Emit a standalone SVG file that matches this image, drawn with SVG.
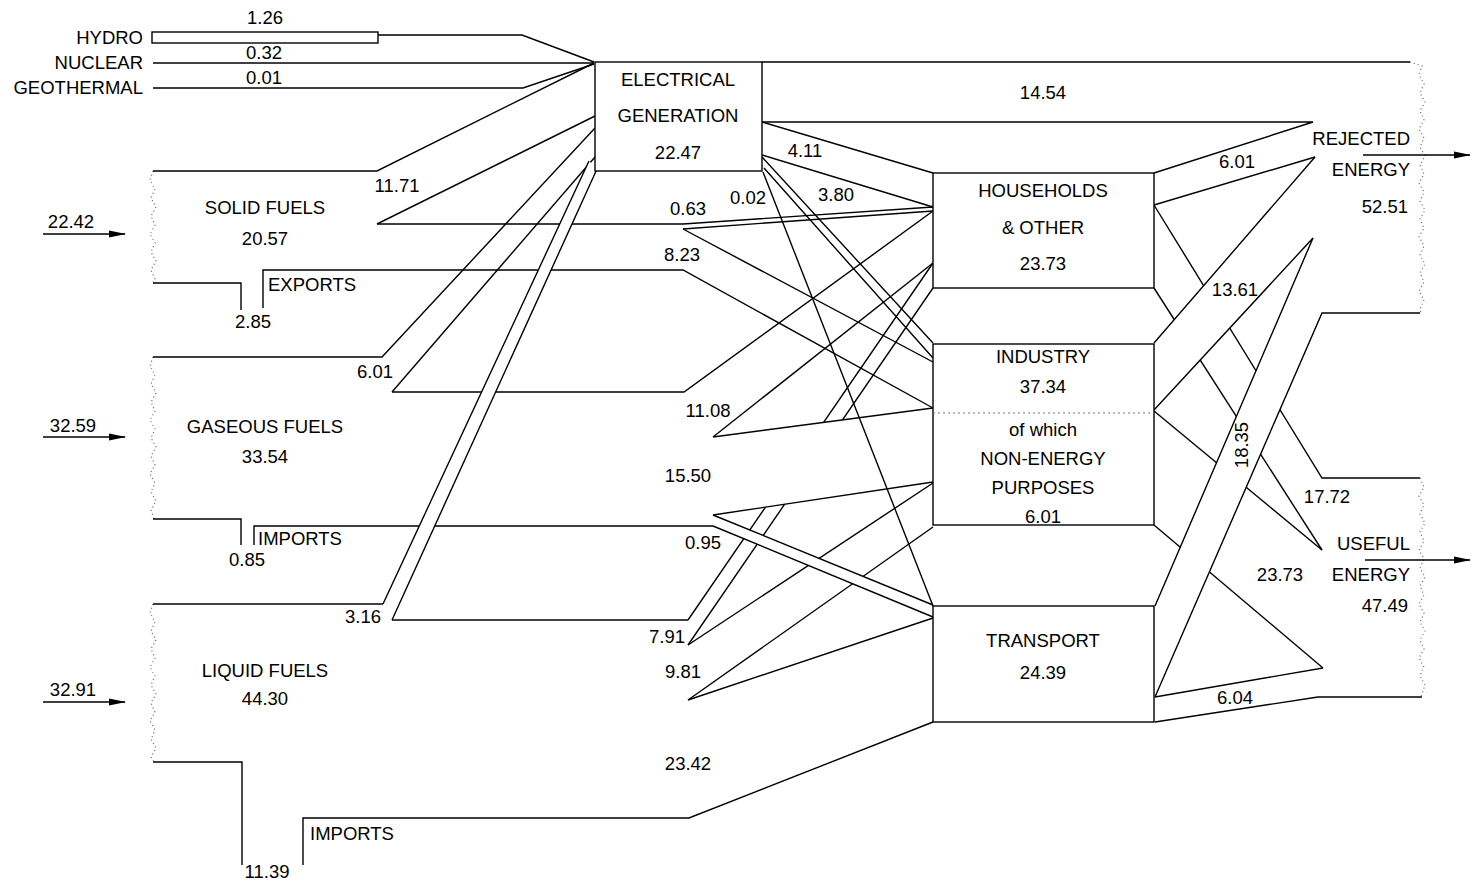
<svg xmlns="http://www.w3.org/2000/svg" width="1473" height="884" viewBox="0 0 1473 884">
<defs>
<marker id="ah" markerWidth="17" markerHeight="8" refX="16" refY="4" orient="auto" markerUnits="userSpaceOnUse">
<path d="M0,0.5 L17,4 L0,7.5 z" fill="#000"/>
</marker>
<style>
.l{fill:none;stroke:#000;stroke-width:1.4;stroke-linejoin:miter}
.b{fill:#fff;stroke:none}
.d{fill:none;stroke:#666;stroke-width:1.2;stroke-dasharray:1 3}
.dl{fill:none;stroke:#777;stroke-width:1;stroke-dasharray:2 3}
.box{fill:#fff;stroke:#000;stroke-width:1.4}
text{font-family:"Liberation Sans",Arial,Helvetica,sans-serif;font-size:18.5px;fill:#000}
.m{text-anchor:middle}
.e{text-anchor:end}
</style>
</defs>
<rect width="1473" height="884" fill="#fff"/>

<g id="connectors">
  <g id="hydro-nuclear-geo">
    <rect x="152" y="32" width="226" height="11" fill="none" stroke="#000" stroke-width="1.4"/>
    <path class="l" d="M378,35 H522 L594,62"/>
    <path class="l" d="M153,63 H594"/>
    <path class="l" d="M153,88 H523 L594,64"/>
  </g>
  <g id="solid-band">
    <path class="d" d="M153,171 L150,180 L155,189 L151,198 L156,207 L151,216 L155,225 L150,234 L155,243 L151,252 L156,261 L151,270 L155,279 L153,283"/>
    <path class="l" d="M153,171 H377 L594,63"/>
    <path class="l" d="M377,224 L595,116"/>
    <path class="l" d="M153,283 H241 V310"/>
    <path class="l" d="M377,224 H683 L933,207"/>
    <path class="l" d="M683,229 L933,211"/>
    <path class="l" d="M683,229 L933,362"/>
    <path class="l" d="M263,308 V270 H683 L933,408"/>
  </g>
  <g id="gas-band">
    <path class="d" d="M153,357 L150,366 L155,375 L151,384 L156,393 L151,402 L155,411 L150,420 L155,429 L151,438 L156,447 L151,456 L155,465 L150,474 L155,483 L151,492 L156,501 L151,510 L154,519"/>
    <path class="l" d="M153,357 H382 L595,128"/>
    <path class="l" d="M392,392 L595,157"/>
    <path class="l" d="M153,519 H241 V545"/>
    <path class="l" d="M392,392 H684 L933,211"/>
    <path class="l" d="M713,437 L933,263"/>
  </g>
  <g id="liquid-band">
    <path class="d" d="M153,604 L150,613 L155,622 L151,631 L156,640 L151,649 L155,658 L150,667 L155,676 L151,685 L156,694 L151,703 L155,712 L150,721 L155,730 L151,739 L156,748 L151,757 L154,762"/>
    <path class="l" d="M153,604 H383"/>
    <path class="l" d="M153,762 H242 V865"/>
    <path class="l" d="M303,865 V818 H689 L933,722"/>
    <path class="l" d="M392,620 H688"/>
    <path class="l" d="M688,645 L933,483"/>
    <path class="l" d="M688,700 L933,527"/>
    <path class="l" d="M688,700 L933,618"/>
  </g>
  <path class="l" d="M254,545 V526 H713"/>
  <g id="liq-316">
    <path class="b" d="M383,604 L589,161 L597,169 L392,620 z"/>
    <path class="l" d="M383,604 L589,161 M392,620 L597,169"/>
  </g>
  <path class="l" d="M762,62 H1410"/>
  <path class="l" d="M762,122 H1313 L1154,173"/>
  <path class="l" d="M762,122 L933,173"/>
  <path class="l" d="M762,155 L933,207"/>
  <g id="liq-791">
    <path class="l" d="M688,620 L933,263 M688,645 L933,288"/>
  </g>
  <g id="el-380">
    <path class="l" d="M762,157 L933,343 M764,168 L933,358"/>
  </g>
  <g id="gas-1550">
    <path class="b" d="M713,437 L933,408 L933,482 L713,515 z"/>
    <path class="l" d="M713,437 L933,408 M713,515 L933,482"/>
  </g>
  <g id="gas-095">
    <path class="b" d="M713,515 L933,605 L933,617 L713,526 z"/>
    <path class="l" d="M713,515 L933,605 M713,526 L933,617"/>
  </g>
  <path class="l" d="M763,172 L933,606"/>

  <path class="l" d="M1154,205 L1322,478 H1420"/>
  <path class="l" d="M1154,288 L1322,550"/>
  <path class="l" d="M1154,411 L1322,550"/>
  <path class="l" d="M1154,525 L1323,668"/>
  <path class="l" d="M1155,697 L1323,668"/>
  <path class="l" d="M1155,722 L1318,697 H1422"/>
  <path class="l" d="M1154,205 L1315,157"/>
  <g id="rej-1361">
    <path class="b" d="M1154,343 L1315,157 L1313,238 L1154,410 z"/>
    <path class="l" d="M1154,343 L1315,157 M1154,410 L1313,238"/>
  </g>
  <g id="rej-1835">
    <path class="b" d="M1155,606 L1313,238 L1322,313 L1155,697 z"/>
    <path class="l" d="M1155,606 L1313,238 M1155,697 L1322,313 H1420"/>
  </g>
  <path class="d" d="M1410,62 L1422,66 L1419,75 L1424,84 L1420,93 L1425,102 L1420,111 L1424,120 L1419,129 L1424,138 L1420,147 L1425,156 L1420,165 L1424,174 L1419,183 L1424,192 L1420,201 L1425,210 L1420,219 L1424,228 L1419,237 L1424,246 L1420,255 L1425,264 L1420,273 L1424,282 L1419,291 L1424,300 L1420,309 L1421,313"/>
  <path class="d" d="M1420,478 L1424,487 L1419,496 L1424,505 L1420,514 L1425,523 L1420,532 L1424,541 L1419,550 L1424,559 L1420,568 L1425,577 L1420,586 L1424,595 L1419,604 L1424,613 L1420,622 L1425,631 L1420,640 L1424,649 L1419,658 L1424,667 L1420,676 L1425,685 L1421,697"/>
  <path class="l" d="M43,234 H125" marker-end="url(#ah)"/>
  <path class="l" d="M43,437 H125" marker-end="url(#ah)"/>
  <path class="l" d="M43,702 H125" marker-end="url(#ah)"/>
  <path class="l" d="M1363,155 H1470" marker-end="url(#ah)"/>
  <path class="l" d="M1365,560 H1470" marker-end="url(#ah)"/>
</g>

<g id="node-electrical">
  <rect class="box" x="595" y="62" width="167" height="109"/>
  <text class="m" x="678" y="86">ELECTRICAL</text>
  <text class="m" x="678" y="122">GENERATION</text>
  <text class="m" x="678" y="159">22.47</text>
</g>
<g id="node-households">
  <rect class="box" x="933" y="173" width="221" height="115"/>
  <text class="m" x="1043" y="197">HOUSEHOLDS</text>
  <text class="m" x="1043" y="234">&amp; OTHER</text>
  <text class="m" x="1043" y="270">23.73</text>
</g>
<g id="node-industry">
  <rect class="box" x="933" y="344" width="221" height="181"/>
  <path class="dl" d="M933,413 H1154"/>
  <text class="m" x="1043" y="363">INDUSTRY</text>
  <text class="m" x="1043" y="393">37.34</text>
  <text class="m" x="1043" y="436">of which</text>
  <text class="m" x="1043" y="465">NON-ENERGY</text>
  <text class="m" x="1043" y="494">PURPOSES</text>
  <text class="m" x="1043" y="523">6.01</text>
</g>
<g id="node-transport">
  <rect class="box" x="933" y="606" width="221" height="116"/>
  <text class="m" x="1043" y="647">TRANSPORT</text>
  <text class="m" x="1043" y="679">24.39</text>
</g>
<g id="node-solid">
  <text class="m" x="265" y="214">SOLID FUELS</text>
  <text class="m" x="265" y="245">20.57</text>
</g>
<g id="node-gas">
  <text class="m" x="265" y="433">GASEOUS FUELS</text>
  <text class="m" x="265" y="463">33.54</text>
</g>
<g id="node-liquid">
  <text class="m" x="265" y="677">LIQUID FUELS</text>
  <text class="m" x="265" y="705">44.30</text>
</g>
<g id="node-rejected">
  <text class="e" x="1410" y="145">REJECTED</text>
  <text class="e" x="1410" y="176">ENERGY</text>
  <text class="e" x="1408" y="213">52.51</text>
</g>
<g id="node-useful">
  <text class="e" x="1410" y="550">USEFUL</text>
  <text class="e" x="1410" y="581">ENERGY</text>
  <text class="e" x="1408" y="612">47.49</text>
</g>
<g id="labels">
  <text class="m" x="265" y="24">1.26</text>
  <text class="e" x="143" y="44">HYDRO</text>
  <text class="e" x="143" y="69">NUCLEAR</text>
  <text class="e" x="143" y="94">GEOTHERMAL</text>
  <text class="m" x="264" y="59">0.32</text>
  <text class="m" x="264" y="84">0.01</text>
  <text class="m" x="397" y="192">11.71</text>
  <text class="m" x="71" y="228">22.42</text>
  <text x="268" y="291">EXPORTS</text>
  <text class="m" x="253" y="328">2.85</text>
  <text class="m" x="375" y="378">6.01</text>
  <text class="m" x="73" y="432">32.59</text>
  <text x="258" y="545">IMPORTS</text>
  <text class="m" x="247" y="566">0.85</text>
  <text class="m" x="363" y="623">3.16</text>
  <text class="m" x="73" y="696">32.91</text>
  <text x="310" y="840">IMPORTS</text>
  <text class="m" x="267" y="878">11.39</text>
  <text class="m" x="688" y="215">0.63</text>
  <text class="m" x="748" y="204">0.02</text>
  <text class="m" x="805" y="157">4.11</text>
  <text class="m" x="836" y="201">3.80</text>
  <text class="m" x="682" y="261">8.23</text>
  <text class="m" x="708" y="417">11.08</text>
  <text class="m" x="688" y="482">15.50</text>
  <text class="m" x="703" y="549">0.95</text>
  <text class="m" x="667" y="643">7.91</text>
  <text class="m" x="683" y="678">9.81</text>
  <text class="m" x="688" y="770">23.42</text>
  <text class="m" x="1043" y="99">14.54</text>
  <text class="m" x="1237" y="168">6.01</text>
  <text class="m" x="1235" y="296">13.61</text>
  <text class="m" transform="translate(1248,445) rotate(-90)" x="0" y="0">18.35</text>
  <text class="m" x="1327" y="503">17.72</text>
  <text class="m" x="1280" y="581">23.73</text>
  <text class="m" x="1235" y="704">6.04</text>
</g>
</svg>
